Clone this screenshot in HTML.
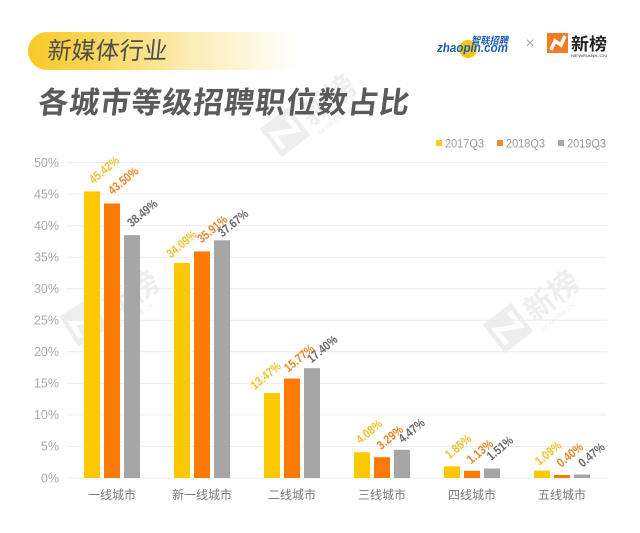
<!DOCTYPE html>
<html><head><meta charset="utf-8">
<style>
html,body{margin:0;padding:0;background:#fff;}
svg{display:block;}
text{font-family:"Liberation Sans","Noto Sans CJK SC",sans-serif;}
.cjk{font-family:"Noto Sans CJK SC","WenQuanYi Zen Hei",sans-serif;}
</style></head>
<body>
<svg width="640" height="533" viewBox="0 0 640 533" xmlns="http://www.w3.org/2000/svg">
<defs>
<linearGradient id="pill" x1="0" x2="1" y1="0" y2="0">
<stop offset="0" stop-color="#f7c925"/>
<stop offset="0.25" stop-color="#f9d65a"/>
<stop offset="0.6" stop-color="#fcedb5"/>
<stop offset="1" stop-color="#ffffff"/>
</linearGradient>
<g id="wm">
<rect x="-18" y="-18" width="36" height="36" fill="#eeeeee"/>
<polyline points="-11,12 -11,-6 11,6 11,-12" fill="none" stroke="#fff" stroke-width="5"/>
<text x="24" y="12" class="cjk" font-size="30" font-weight="700" fill="#eeeeee">新榜</text>
<text x="26" y="24" font-size="6" fill="#eeeeee">NEWRANK.CN</text>
</g>
</defs>
<rect width="640" height="533" fill="#fff"/>

<!-- header pill -->
<path d="M47,32 H300 V70 H47 A19,19 0 0 1 47,32 Z" fill="url(#pill)"/>
<text x="47" y="59" class="cjk" font-size="24" fill="#4d4d4d" transform="skewX(-6) translate(6,0)">新媒体行业</text>

<!-- watermarks -->
<g transform="translate(285,132) rotate(-38)"><use href="#wm"/></g>
<g transform="translate(84,322) rotate(-32)"><use href="#wm"/></g>
<g transform="translate(508,328) rotate(-38)"><use href="#wm"/></g>

<!-- main title -->
<text x="38" y="113" class="cjk" font-size="30" font-weight="700" fill="#5a5a5a" letter-spacing="1" transform="skewX(-7) translate(13,0)">各城市等级招聘职位数占比</text>

<!-- logos -->
<circle cx="468" cy="49" r="9" fill="#f5c518"/>
<text x="437" y="52" font-size="13" font-weight="700" font-style="italic" fill="#1d5fae" textLength="71" lengthAdjust="spacingAndGlyphs">zhaopin.com</text>
<text x="471" y="44" class="cjk" font-size="10" font-weight="700" font-style="italic" fill="#1d5fae" textLength="37" lengthAdjust="spacingAndGlyphs">智联招聘</text>
<text x="530" y="48" font-size="16" fill="#aaa" text-anchor="middle">×</text>
<rect x="547" y="33" width="21" height="20" fill="#f47b20"/>
<polyline points="551,50 555,41 561,45 565,36" fill="none" stroke="#fff" stroke-width="3.5"/>
<text x="571" y="50" class="cjk" font-size="17" font-weight="700" fill="#222" textLength="36" lengthAdjust="spacingAndGlyphs">新榜</text>
<text x="571" y="57" font-size="4" fill="#333" textLength="36" lengthAdjust="spacingAndGlyphs">NEWRANK.CN</text>

<!-- legend -->
<rect x="436" y="140" width="6" height="6" fill="#f7c81e"/>
<text x="445" y="147.5" font-size="11.5" fill="#999" textLength="39" lengthAdjust="spacingAndGlyphs">2017Q3</text>
<rect x="497" y="140" width="6" height="6" fill="#f08a2a"/>
<text x="506" y="147.5" font-size="11.5" fill="#999" textLength="39" lengthAdjust="spacingAndGlyphs">2018Q3</text>
<rect x="558" y="140" width="6" height="6" fill="#a8a8a8"/>
<text x="567" y="147.5" font-size="11.5" fill="#999" textLength="39" lengthAdjust="spacingAndGlyphs">2019Q3</text>

<!-- gridlines -->
<g stroke="#ececec" stroke-width="1">
<line x1="67" x2="607" y1="162.5" y2="162.5"/>
<line x1="67" x2="607" y1="194" y2="194"/>
<line x1="67" x2="607" y1="225.6" y2="225.6"/>
<line x1="67" x2="607" y1="257.2" y2="257.2"/>
<line x1="67" x2="607" y1="288.7" y2="288.7"/>
<line x1="67" x2="607" y1="320.3" y2="320.3"/>
<line x1="67" x2="607" y1="351.8" y2="351.8"/>
<line x1="67" x2="607" y1="383.4" y2="383.4"/>
<line x1="67" x2="607" y1="414.9" y2="414.9"/>
<line x1="67" x2="607" y1="446.5" y2="446.5"/>
<line x1="67" x2="607" y1="478" y2="478"/>
</g>

<!-- y labels -->
<g font-size="12.5" fill="#aaa" text-anchor="end">
<text x="59" y="167">50%</text>
<text x="59" y="198.5">45%</text>
<text x="59" y="230">40%</text>
<text x="59" y="261.5">35%</text>
<text x="59" y="293">30%</text>
<text x="59" y="324.5">25%</text>
<text x="59" y="356">20%</text>
<text x="59" y="387.5">15%</text>
<text x="59" y="419">10%</text>
<text x="59" y="450.5">5%</text>
<text x="59" y="482.5">0%</text>
</g>

<!-- bars -->
<g fill="#fcc800">
<rect x="84" y="191.4" width="16" height="286.6"/>
<rect x="174" y="262.9" width="16" height="215.1"/>
<rect x="264" y="393" width="16" height="85"/>
<rect x="354" y="452.3" width="16" height="25.7"/>
<rect x="444" y="466.3" width="16" height="11.7"/>
<rect x="534" y="470.6" width="16" height="7.4"/>
</g>
<g fill="#fb7a05">
<rect x="104" y="203.5" width="16" height="274.5"/>
<rect x="194" y="251.4" width="16" height="226.6"/>
<rect x="284" y="378.5" width="16" height="99.5"/>
<rect x="374" y="457.2" width="16" height="20.8"/>
<rect x="464" y="470.9" width="16" height="7.1"/>
<rect x="554" y="475" width="16" height="3"/>
</g>
<g fill="#a6a6a6">
<rect x="124" y="235.1" width="16" height="242.9"/>
<rect x="214" y="240.3" width="16" height="237.7"/>
<rect x="304" y="368.2" width="16" height="109.8"/>
<rect x="394" y="449.8" width="16" height="28.2"/>
<rect x="484" y="468.5" width="16" height="9.5"/>
<rect x="574" y="474.5" width="16" height="3.5"/>
</g>

<!-- value labels -->
<g font-size="12.5" font-weight="700" text-anchor="middle" dominant-baseline="central">
<g fill="#efc232">
<text transform="translate(104.2,170) rotate(-40)" textLength="35" lengthAdjust="spacingAndGlyphs">45.42%</text>
<text transform="translate(181.7,244.2) rotate(-40)" textLength="35" lengthAdjust="spacingAndGlyphs">34.09%</text>
<text transform="translate(265.8,375.8) rotate(-40)" textLength="35" lengthAdjust="spacingAndGlyphs">13.47%</text>
<text transform="translate(369.2,431.7) rotate(-40)" textLength="30" lengthAdjust="spacingAndGlyphs">4.08%</text>
<text transform="translate(458.3,446.7) rotate(-40)" textLength="30" lengthAdjust="spacingAndGlyphs">1.85%</text>
<text transform="translate(548.3,453.3) rotate(-40)" textLength="30" lengthAdjust="spacingAndGlyphs">1.09%</text>
</g>
<g fill="#e8872c">
<text transform="translate(123.3,180.8) rotate(-40)" textLength="35" lengthAdjust="spacingAndGlyphs">43.50%</text>
<text transform="translate(212.5,229.2) rotate(-40)" textLength="35" lengthAdjust="spacingAndGlyphs">35.91%</text>
<text transform="translate(299.2,358.3) rotate(-40)" textLength="35" lengthAdjust="spacingAndGlyphs">15.77%</text>
<text transform="translate(390,437.5) rotate(-40)" textLength="30" lengthAdjust="spacingAndGlyphs">3.29%</text>
<text transform="translate(480,451.7) rotate(-40)" textLength="30" lengthAdjust="spacingAndGlyphs">1.13%</text>
<text transform="translate(570,455) rotate(-40)" textLength="30" lengthAdjust="spacingAndGlyphs">0.40%</text>
</g>
<g fill="#6a6a6a">
<text transform="translate(142.5,213.3) rotate(-40)" textLength="35" lengthAdjust="spacingAndGlyphs">38.49%</text>
<text transform="translate(233.3,223.3) rotate(-40)" textLength="35" lengthAdjust="spacingAndGlyphs">37.67%</text>
<text transform="translate(322.5,349.2) rotate(-40)" textLength="35" lengthAdjust="spacingAndGlyphs">17.40%</text>
<text transform="translate(411.7,430.8) rotate(-40)" textLength="30" lengthAdjust="spacingAndGlyphs">4.47%</text>
<text transform="translate(500,448.3) rotate(-40)" textLength="30" lengthAdjust="spacingAndGlyphs">1.51%</text>
<text transform="translate(591.7,455) rotate(-40)" textLength="30" lengthAdjust="spacingAndGlyphs">0.47%</text>
</g>
</g>

<!-- category labels -->
<g font-size="12" fill="#7a7a7a" text-anchor="middle">
<text x="112" y="499" class="cjk">一线城市</text>
<text x="202" y="499" class="cjk">新一线城市</text>
<text x="292" y="499" class="cjk">二线城市</text>
<text x="382" y="499" class="cjk">三线城市</text>
<text x="472" y="499" class="cjk">四线城市</text>
<text x="562" y="499" class="cjk">五线城市</text>
</g>
</svg>
</body></html>
